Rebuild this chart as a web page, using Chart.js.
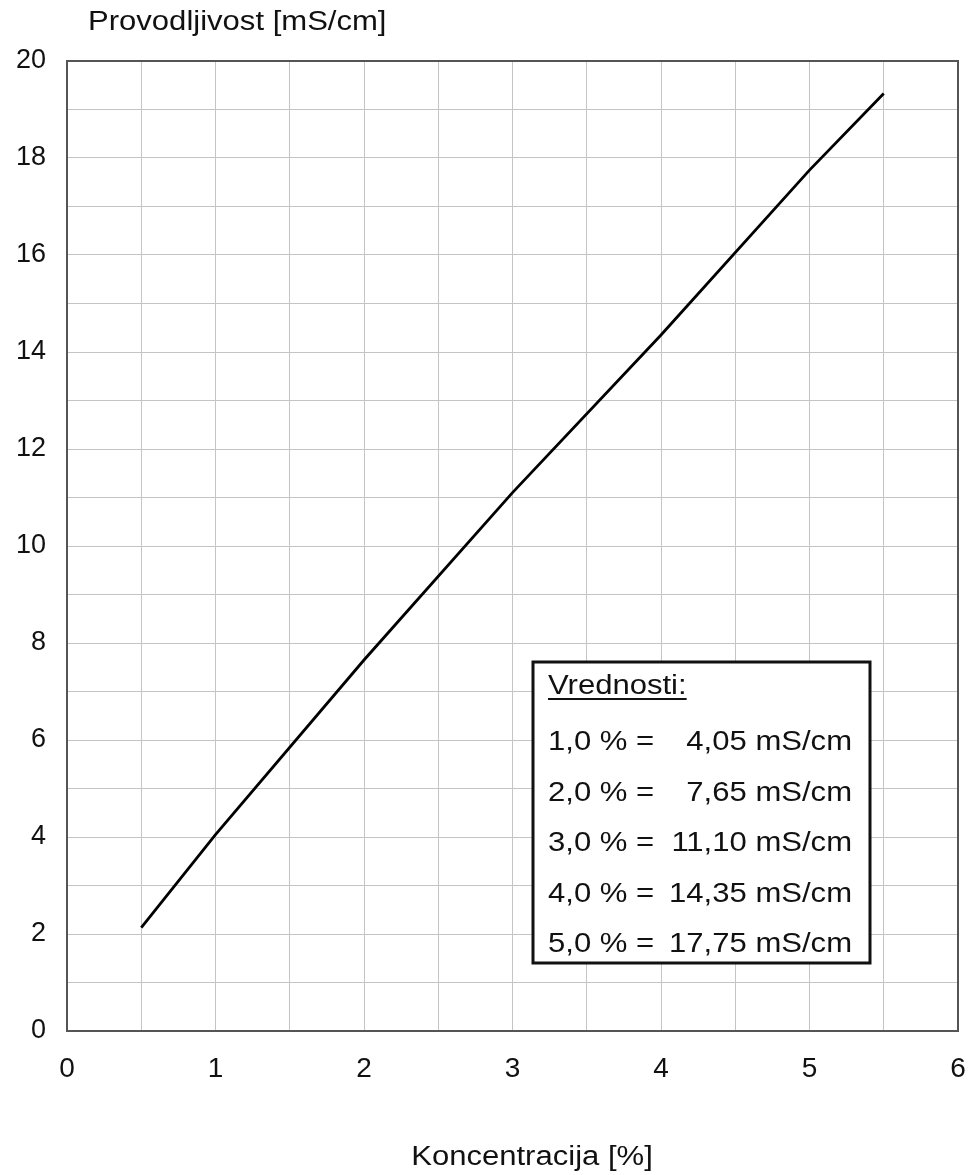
<!DOCTYPE html>
<html>
<head>
<meta charset="utf-8">
<script src="https://cdn.jsdelivr.net/npm/chart.js@4"></script>
<style>
  body { margin: 0; background: #fff; }
  #wrap { width: 969px; height: 1175px; }
</style>
</head>
<body>
<div id="wrap"><canvas id="chart" width="969" height="1175"></canvas></div>
<script>
// Provodljivost vs koncentracija

const concentration = [0.5, 1, 2, 3, 4, 5, 5.5];
const conductivity = [2.13, 4.05, 7.65, 11.10, 14.35, 17.75, 19.33];

const xTicks = [0, 1, 2, 3, 4, 5, 6];
const yTicks = [0, 2, 4, 6, 8, 10, 12, 14, 16, 18, 20];

const legendTitle = "Vrednosti:";
const legendPct = ["1,0", "2,0", "3,0", "4,0", "5,0"];
const legendVal = ["4,05", "7,65", "11,10", "14,35", "17,75"];

const yTitle = "Provodljivost [mS/cm]";
const xTitle = "Koncentracija [%]";

const fontFamily = "'Liberation Sans', Arial, sans-serif";
const textColor = "#111";
const stretch = 1.15; // the source text is a bit wider than plain Arial

// text drawn a little wider, like in the original picture
function wideText(ctx, text, x, y, align) {
  var w = ctx.measureText(text).width * stretch;
  var left = x;
  if (align === "center") left = x - w / 2;
  if (align === "right") left = x - w;
  ctx.save();
  ctx.textAlign = "left";
  ctx.translate(left, y);
  ctx.scale(stretch, 1);
  ctx.fillText(text, 0, 0);
  ctx.restore();
  return w;
}

// frame + titles + value box
var extrasPlugin = {
  id: "extras",
  afterDraw: function(chart) {
    var ctx = chart.ctx;
    var a = chart.chartArea;
    ctx.save();

    // top and right border of the plot
    ctx.strokeStyle = "#555";
    ctx.lineWidth = 2;
    ctx.beginPath();
    ctx.moveTo(a.left, a.top);
    ctx.lineTo(a.right, a.top);
    ctx.lineTo(a.right, a.bottom);
    ctx.stroke();

    ctx.fillStyle = textColor;
    ctx.font = "27px " + fontFamily;
    ctx.textBaseline = "middle";
    wideText(ctx, yTitle, 88, 23, "left");
    wideText(ctx, xTitle, 532, 1158, "center");

    // value box
    var bx = 533, by = 662, bw = 337, bh = 301;
    ctx.fillStyle = "#fff";
    ctx.fillRect(bx, by, bw, bh);
    ctx.strokeStyle = "#111";
    ctx.lineWidth = 3;
    ctx.strokeRect(bx, by, bw, bh);

    ctx.fillStyle = textColor;
    ctx.font = "27px " + fontFamily;
    ctx.textBaseline = "alphabetic";
    var tw = wideText(ctx, legendTitle, 548, 694, "left");
    ctx.fillRect(548, 698, tw, 2);

    for (var i = 0; i < legendPct.length; i++) {
      var y = 750 + i * 50.5;
      wideText(ctx, legendPct[i] + " % =", 548, y, "left");
      wideText(ctx, legendVal[i] + " mS/cm", 852, y, "right");
    }
    ctx.restore();
  }
};

var ctx = document.getElementById("chart").getContext("2d");
var chart = new Chart(ctx, {
  type: "line",
  data: {
    datasets: [{
      data: concentration.map(function(x, i) { return { x: x, y: conductivity[i] }; }),
      borderColor: "#000",
      borderWidth: 2.8,
      pointRadius: 0,
      tension: 0,
      fill: false
    }]
  },
  options: {
    responsive: false,
    animation: false,
    devicePixelRatio: 1,
    layout: { padding: { top: 61, right: 11, left: 0, bottom: 0 } },
    plugins: {
      legend: { display: false },
      tooltip: { enabled: false }
    },
    scales: {
      x: {
        type: "linear",
        min: 0,
        max: 6,
        afterFit: function(scale) {
          scale.height = 144;
          scale.paddingLeft = 0;
          scale.paddingRight = 0;
        },
        ticks: {
          stepSize: 0.5,
          padding: 21,
          color: textColor,
          font: { family: fontFamily, size: 28 },
          maxRotation: 0,
          autoSkip: false,
          callback: function(v) { return xTicks.indexOf(v) >= 0 ? String(v) : ""; }
        },
        grid: { color: "#c4c4c4", lineWidth: 1, drawTicks: false },
        border: { color: "#555", width: 2 }
      },
      y: {
        type: "linear",
        min: 0,
        max: 20,
        afterFit: function(scale) {
          scale.width = 67;
          scale.paddingTop = 0;
          scale.paddingBottom = 0;
        },
        ticks: {
          stepSize: 1,
          padding: 21,
          color: textColor,
          font: { family: fontFamily, size: 27 },
          autoSkip: false,
          callback: function(v) { return yTicks.indexOf(v) >= 0 ? String(v) : ""; }
        },
        grid: { color: "#c4c4c4", lineWidth: 1, drawTicks: false },
        border: { color: "#555", width: 2 }
      }
    }
  },
  plugins: [extrasPlugin]
});
</script>
</body>
</html>
